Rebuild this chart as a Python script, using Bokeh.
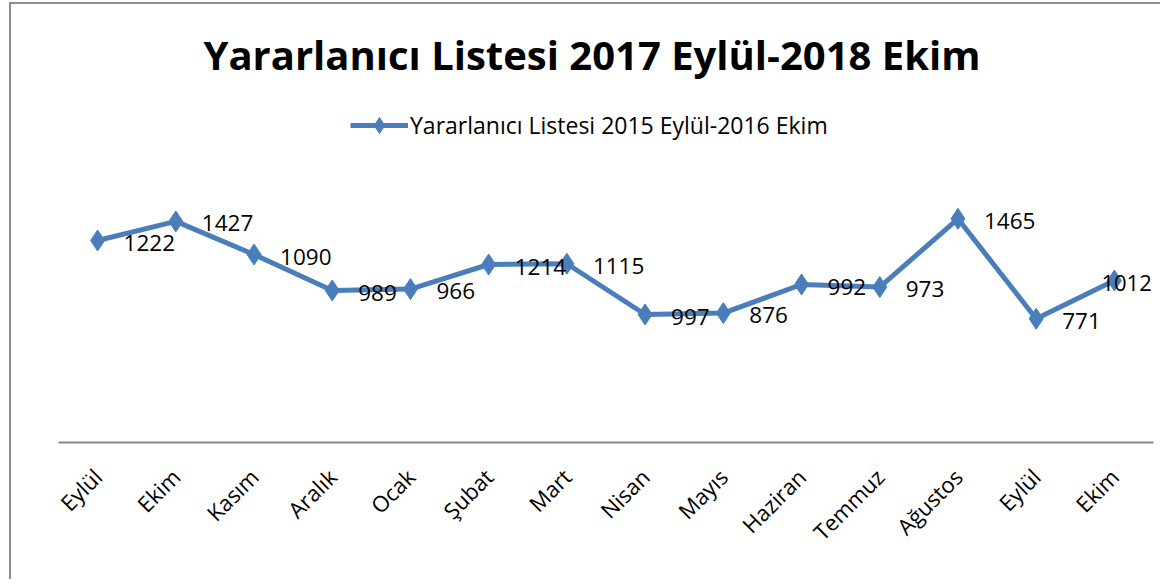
import math
from bokeh.plotting import figure
from bokeh.models import ColumnDataSource, FixedTicker, Range1d, Legend, LegendItem
from bokeh.core.properties import value
from bokeh.embed import file_html
from bokeh.resources import INLINE

# ---- data ----
months = ["Eylül", "Ekim", "Kasım", "Aralık", "Ocak", "Şubat", "Mart",
          "Nisan", "Mayıs", "Haziran", "Temmuz", "Ağustos", "Eylül", "Ekim"]
# plotted heights
plotted = [1300, 1424, 1209, 975, 984, 1144, 1149, 819, 828, 1014, 997, 1441, 791, 1040]
# data label texts as printed in the picture
labels = ["1222", "1427", "1090", "989", "966", "1214", "1115",
          "997", "876", "992", "973", "1465", "771", "1012"]
series_name = "Yararlanıcı Listesi 2015 Eylül-2016 Ekim"
chart_title = "Yararlanıcı Listesi 2017 Eylül-2018 Ekim"

xs = list(range(len(months)))
BLUE = "#4A7EBB"
FONT = "Open Sans"
GRAY = "#8C8C8C"

src = ColumnDataSource(dict(x=xs, y=plotted, lab=labels))
src_main = ColumnDataSource(dict(x=xs[:-1], y=plotted[:-1], lab=labels[:-1]))
src_last = ColumnDataSource(dict(x=xs[-1:], y=plotted[-1:], lab=labels[-1:]))

p = figure(width=1160, height=579, output_backend="svg", toolbar_location=None,
           x_range=Range1d(-0.5, len(months) - 0.5), y_range=Range1d(-13, 2210),
           min_border_left=58, min_border_right=7, min_border_top=100, min_border_bottom=137)

# outer chart-area border (left and top edges visible in the picture)
p.border_fill_alpha = 0
p.styles = {"background": (f"linear-gradient({GRAY},{GRAY}) 9px 2px / 2px 100% no-repeat, "
                           f"linear-gradient({GRAY},{GRAY}) 9px 2px / 100% 2px no-repeat, white")}

p.title.text = chart_title
p.title.text_font = FONT
p.title.text_font_size = "40px"
p.title.text_font_style = "bold"
p.title.align = "left"
p.title.offset = 145
p.title.text_color = "#000000"
p.title.standoff = 37

ln = p.line("x", "y", source=src, line_width=5, line_color=BLUE, line_join="round")
mk = p.scatter("x", "y", source=src, marker="diamond", size=21, fill_color=BLUE, line_color=BLUE)

p.text("x", "y", text="lab", source=src_main, x_offset=26, y_offset=2,
       text_font=value(FONT), text_font_size="22.5px", text_baseline="middle",
       text_align="left", text_color="#000000")
p.text("x", "y", text="lab", source=src_last, x_offset=-13, y_offset=2,
       text_font=value(FONT), text_font_size="22px", text_baseline="middle",
       text_align="left", text_color="#000000")

legend = Legend(items=[LegendItem(label=series_name, renderers=[ln, mk])],
                location=(286, 291), orientation="horizontal",
                label_text_font=FONT, label_text_font_size="23px", label_text_color="#000000",
                glyph_width=58, glyph_height=40, label_standoff=2,
                background_fill_alpha=0, border_line_alpha=0, margin=0, padding=6)
p.add_layout(legend)

p.xaxis.ticker = FixedTicker(ticks=xs)
p.xaxis.major_label_overrides = {i: m for i, m in enumerate(months)}
p.xaxis.major_label_orientation = math.pi / 4
p.xaxis.major_label_text_font = FONT
p.xaxis.major_label_text_font_size = "22px"
p.xaxis.major_label_text_color = "#000000"
p.xaxis.major_tick_line_color = None
p.xaxis.minor_tick_line_color = None
p.xaxis.axis_line_color = "#868686"
p.xaxis.axis_line_width = 2
p.xaxis.major_label_standoff = 24

p.yaxis.visible = False
p.xgrid.grid_line_color = None
p.ygrid.grid_line_color = None
p.outline_line_color = None

open("out.html", "w").write(file_html(p, INLINE))
